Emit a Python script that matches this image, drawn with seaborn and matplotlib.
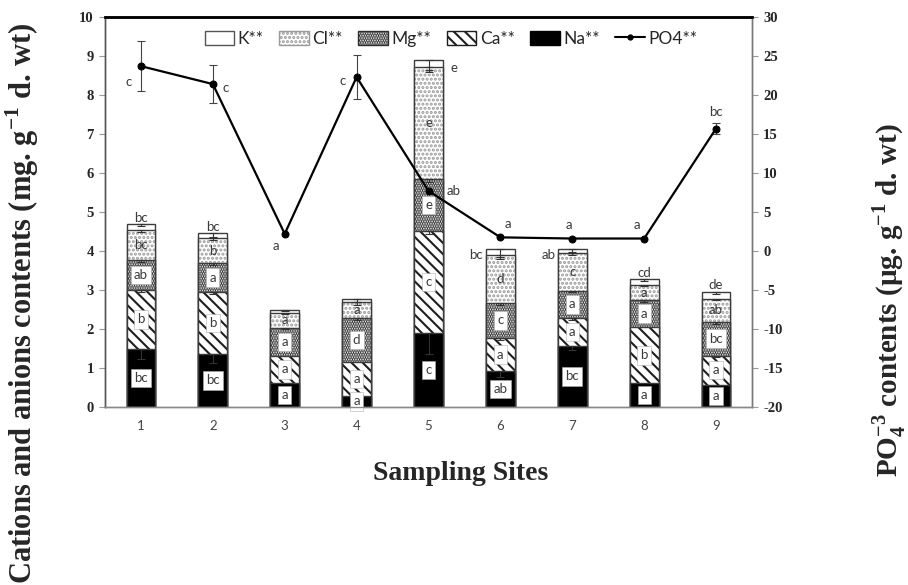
import numpy as np
import pandas as pd
import matplotlib
matplotlib.use('Agg')
import matplotlib.pyplot as plt
import seaborn as sns
from matplotlib.patches import Patch
from matplotlib.lines import Line2D

# data
sites = ['1', '2', '3', '4', '5', '6', '7', '8', '9']
na = [1.48, 1.36, 0.61, 0.29, 1.89, 0.92, 1.57, 0.61, 0.57]
ca = [1.53, 1.58, 0.71, 0.86, 2.62, 0.85, 0.71, 1.43, 0.75]
mg = [0.75, 0.75, 0.70, 1.13, 1.33, 0.90, 0.70, 0.70, 0.87]
cl = [0.77, 0.64, 0.40, 0.40, 2.88, 1.23, 0.96, 0.39, 0.59]
k = [0.15, 0.12, 0.07, 0.09, 0.19, 0.15, 0.11, 0.15, 0.17]
po4 = [23.7, 21.4, 2.2, 22.3, 7.7, 1.75, 1.6, 1.6, 15.7]

na_err = [0.25, 0.24, 0.0, 0.0, 0.53, 0.15, 0.11, 0.0, 0.0]
ca_err = [0.05, 0.05, 0.0, 0.0, 0.08, 0.05, 0.05, 0.0, 0.04]
mg_err = [0.05, 0.06, 0.03, 0.05, 0.08, 0.05, 0.04, 0.04, 0.05]
cl_err = [0.04, 0.05, 0.03, 0.06, 0.08, 0.06, 0.04, 0.04, 0.04]
k_err = [0.04, 0.10, 0.04, 0.08, 0.32, 0.25, 0.08, 0.04, 0.04]
po4_err = [3.2, 2.4, 0.0, 2.8, 0.0, 0.0, 0.0, 0.0, 0.7]

na_let = ['bc', 'bc', 'a', 'a', 'c', 'ab', 'bc', 'a', 'a']
ca_let = ['b', 'b', 'a', 'a', 'c', 'a', 'a', 'b', 'a']
mg_let = ['ab', 'a', 'a', 'd', 'e', 'c', 'a', 'a', 'bc']
cl_let = ['bc', 'b', 'a', 'a', 'e', 'd', 'c', 'a', 'ab']
k_let = ['bc', 'bc', '', '', 'e', 'bc', 'ab', 'cd', 'de']
po4_let = ['c', 'c', 'a', 'c', 'ab', 'a', 'a', 'a', 'bc']

df = pd.DataFrame({'site': sites, 'Na': na, 'Ca': ca, 'Mg': mg, 'Cl': cl, 'K': k})
ions = ['Na', 'Ca', 'Mg', 'Cl', 'K']
tops = df[ions].cumsum(axis=1)
bottoms = tops - df[ions]

errs = {'Na': na_err, 'Ca': ca_err, 'Mg': mg_err, 'Cl': cl_err, 'K': k_err}
lets = {'Na': na_let, 'Ca': ca_let, 'Mg': mg_let, 'Cl': cl_let}

style = {
    'K': dict(color='white', hatch='', hatchcol='white'),
    'Cl': dict(color='white', hatch='....', hatchcol='#9a9a9a'),
    'Mg': dict(color='white', hatch='.......', hatchcol='#2e2e2e'),
    'Ca': dict(color='white', hatch='\\\\\\', hatchcol='#1e1e1e'),
    'Na': dict(color='black', hatch='', hatchcol='black'),
}

sns.set_style('white')
plt.rcParams['hatch.linewidth'] = 1.5
plt.rcParams['axes.unicode_minus'] = False
plt.rcParams['mathtext.fontset'] = 'custom'
plt.rcParams['mathtext.rm'] = 'Liberation Serif:bold'
plt.rcParams['mathtext.bf'] = 'Liberation Serif:bold'

fig = plt.figure(figsize=(9.08, 5.85), dpi=100)
fig.subplots_adjust(left=105/908, right=752/908, bottom=1-407/585, top=1-17/585)
ax = fig.add_subplot(111)

bw = 0.4
# stacked bars: draw cumulative totals from top segment down
for ion in ['K', 'Cl', 'Mg', 'Ca', 'Na']:
    st = style[ion]
    sns.barplot(x=df['site'], y=tops[ion], color=st['color'], saturation=1,
                hatch=st['hatch'], edgecolor=st['hatchcol'], linewidth=0,
                width=bw, errorbar=None, ax=ax)
    sns.barplot(x=df['site'], y=tops[ion], fill=False, edgecolor='#3c3c3c',
                linewidth=1.0, width=bw, errorbar=None, ax=ax)

pos = np.arange(len(sites))
for ion in ions:
    e = np.array(errs[ion])
    m = e > 0
    ax.errorbar(pos[m], tops[ion].values[m], yerr=[e[m], np.zeros(m.sum())], fmt='none',
                ecolor='#333333', elinewidth=0.8, capsize=3, capthick=0.8, zorder=5)

box = dict(boxstyle='square,pad=0.25', fc='white', ec='#b0b0b0', lw=0.4)
lfont = dict(family='Lato', fontsize=9.5, color='#3a3a3a', ha='center', va='center', zorder=6)
for ion in ['Na', 'Ca', 'Mg', 'Cl']:
    for i in range(len(sites)):
        mid = (bottoms[ion][i] + tops[ion][i]) / 2
        if ion == 'Na':
            mid = max(mid, 0.13)
        ax.text(i, mid, lets[ion][i], bbox=None if ion == 'Cl' else box, **lfont)

# K letters (top of bars)
k_off = {0: (0, 0.17), 1: (0, 0.17), 4: (0.36, -0.22), 5: (-0.34, -0.15),
         6: (-0.33, -0.15), 7: (0, 0.15), 8: (0, 0.18)}
for i, (dx, dy) in k_off.items():
    ax.text(i + dx, tops['K'][i] + dy, k_let[i], **lfont)

ax.set_ylim(0, 10)
ax.set_xlim(-0.5, 8.5)
ax.set_yticks(range(0, 11))
ax.set_xticks(np.arange(-0.5, 9, 1), minor=True)
ax.tick_params(axis='x', which='major', length=0, pad=9, labelsize=9.5, labelcolor='#444444')
ax.tick_params(axis='x', which='minor', length=4, color='#999999', direction='out')
ax.tick_params(axis='y', length=4, direction='out', color='#999999', labelsize=10.5, pad=4)
for lab in ax.get_yticklabels():
    lab.set_fontfamily('Liberation Serif')
    lab.set_fontweight('bold')
for lab in ax.get_xticklabels():
    lab.set_fontfamily('Lato')
ax.set_xlabel('')
ax.set_ylabel('')

# PO4 line on secondary axis
ax2 = ax.twinx()
sns.lineplot(x=pos, y=po4, ax=ax2, color='black', lw=1.6, marker='o', markersize=5,
             markeredgecolor='black', zorder=4)
pe = np.array(po4_err)
pm = pe > 0
ax2.errorbar(pos[pm], np.array(po4)[pm], yerr=pe[pm], fmt='none', ecolor='#444444',
             elinewidth=0.8, capsize=3, capthick=0.8, zorder=3)
ax2.set_ylim(-20, 30)
ax2.set_yticks(range(-20, 31, 5))
ax2.tick_params(axis='y', length=4, direction='out', color='#999999', labelsize=10.5, pad=4)
for lab in ax2.get_yticklabels():
    lab.set_fontfamily('Liberation Serif')
    lab.set_fontweight('bold')

p_off = [(-0.17, -2.0), (0.18, -0.5), (-0.12, -1.6), (-0.2, -0.5), (0.35, 0.0),
         (0.1, 1.7), (-0.05, 1.7), (-0.1, 1.7), (0, 2.1)]
for i, (dx, dy) in enumerate(p_off):
    ax2.text(i + dx, po4[i] + dy, po4_let[i], **lfont)

for a in (ax, ax2):
    a.spines['top'].set_color('black')
    a.spines['top'].set_linewidth(1.8)
    a.spines['left'].set_color('#555555')
    a.spines['left'].set_linewidth(1.0)
    a.spines['right'].set_color('#777777')
    a.spines['right'].set_linewidth(1.0)
    a.spines['bottom'].set_color('#888888')
    a.spines['bottom'].set_linewidth(1.0)

handles = [
    Patch(facecolor='white', edgecolor='#555555', label='K**'),
    Patch(facecolor='white', edgecolor='#9a9a9a', hatch='....', label='Cl**'),
    Patch(facecolor='white', edgecolor='#2e2e2e', hatch='.......', label='Mg**'),
    Patch(facecolor='white', edgecolor='#1e1e1e', hatch='\\\\\\', label='Ca**'),
    Patch(facecolor='black', edgecolor='black', label='Na**'),
    Line2D([0], [0], color='black', lw=1.5, marker='o', markersize=3.5, label='PO4**'),
]
ax2.legend(handles=handles, loc='upper center', bbox_to_anchor=(0.535, 1.005), ncol=6,
           frameon=False, handlelength=1.7, handleheight=0.9, handletextpad=0.2,
           columnspacing=0.9, prop={'family': 'Lato', 'size': 12.5})

fig.text(22/908, 1-303/585, 'Cations and anions contents (mg. g$^{-1}$ d. wt)',
         rotation=90, ha='center', va='center', fontsize=22, fontweight='bold',
         family='Liberation Serif')
fig.text(889/908, 1-300/585, 'PO$_4^{-3}$ contents (µg. g$^{-1}$ d. wt)',
         rotation=90, ha='center', va='center', fontsize=21, fontweight='bold',
         family='Liberation Serif')
fig.text(461/908, 1-474/585, 'Sampling Sites', ha='center', va='center', fontsize=20,
         fontweight='bold', family='Liberation Serif')

fig.savefig('out.png', dpi=100)
